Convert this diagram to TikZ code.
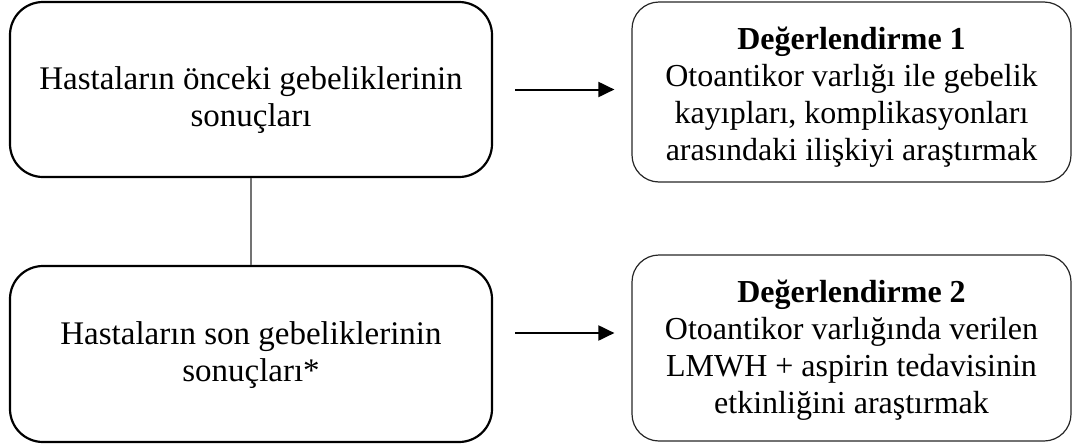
\documentclass[tikz,border=0pt]{standalone}
\usepackage{fontspec}
\setmainfont{Liberation Serif}
\usetikzlibrary{arrows.meta}
\begin{document}
\begin{tikzpicture}[x=1pt,y=-1pt,
  leftbox/.style={draw=black, line width=2.2pt, rounded corners=33pt, minimum width=482pt, minimum height=175pt, inner sep=0pt},
  lefttext/.style={align=center, inner sep=0pt, font=\fontsize{33}{37}\selectfont},
  rightbox/.style={draw=black!85, line width=1.2pt, rounded corners=27pt, minimum width=439pt, inner sep=0pt},
  righttext/.style={align=center, inner sep=0pt, font=\fontsize{32}{37}\selectfont},
  arr/.style={draw=black, line width=2pt, -{Triangle[length=16pt,width=15pt]}},
  link/.style={draw=black!55, line width=1.4pt}]
\useasboundingbox (0,0) rectangle (1074,445);
\node[leftbox] (a) at (251,89.5) {};
\node[lefttext] (at) at (251,100) {Hastaların önceki gebeliklerinin\\sonuçları};
\node[leftbox, minimum height=176pt] (b) at (251,354) {};
\node[lefttext] (bt) at (251,355) {Hastaların son gebeliklerinin\\sonuçları*};
\node[rightbox, minimum height=180pt] (c) at (851.5,92) {};
\node[righttext] (ct) at (851.5,97) {\textbf{Değerlendirme 1}\\Otoantikor varlığı ile gebelik\\kayıpları, komplikasyonları\\arasındaki ilişkiyi araştırmak};
\node[rightbox, minimum height=186pt] (d) at (851.5,348) {};
\node[righttext] (dt) at (851.5,350) {\textbf{Değerlendirme 2}\\Otoantikor varlığında verilen\\LMWH + aspirin tedavisinin\\etkinliğini araştırmak};
\coordinate (s1) at ([xshift=22pt]a.east);
\coordinate (s2) at ([shift={(22pt,21pt)}]b.east);
\draw[link] (a.south) -- (b.north);
\draw[arr] (s1) -- ([xshift=-17pt]c.west |- s1);
\draw[arr] (s2) -- ([xshift=-17pt]d.west |- s2);
\end{tikzpicture}
\end{document}
